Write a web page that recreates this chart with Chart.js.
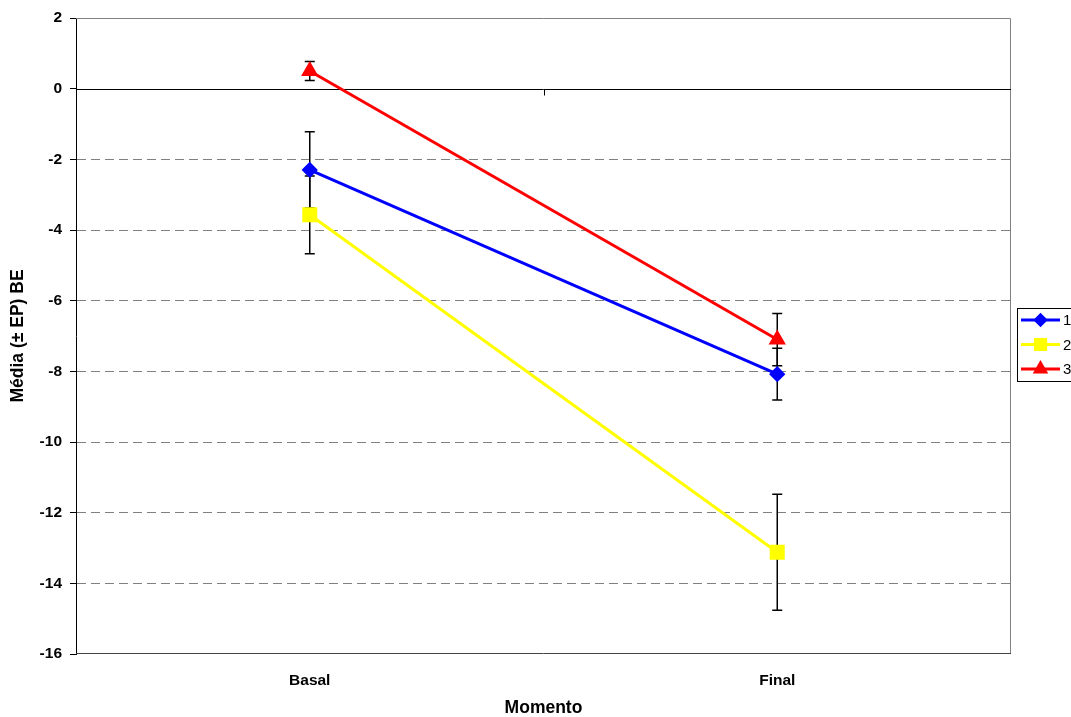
<!DOCTYPE html>
<html>
<head>
<meta charset="utf-8">
<script src="https://cdn.jsdelivr.net/npm/chart.js@4.4.1/dist/chart.umd.min.js"></script>
<style>
  html, body { margin: 0; padding: 0; background: #fff; }
  #wrap { width: 1071px; height: 717px; position: relative; }
</style>
</head>
<body>
<div id="wrap"><canvas id="chart"></canvas></div>
<script>
const momentos = ['Basal', 'Final'];
const grupo1 = [-2.3, -8.08];
const grupo2 = [-3.57, -13.12];
const grupo3 = [0.5, -7.1];
// erro padrão de cada ponto
const ep1 = [1.08, 0.73];
const ep2 = [1.1, 1.64];
const ep3 = [0.27, 0.74];
const yTicks = [2, 0, -2, -4, -6, -8, -10, -12, -14, -16];

const fonte = "'Liberation Sans', Arial, sans-serif";

// barras de erro, eixo do zero e moldura da área do gráfico
const extras = {
  id: 'extras',
  beforeDatasetsDraw(chart) {
    const ctx = chart.ctx;
    const a = chart.chartArea;
    const y = chart.scales.y;
    const x = chart.scales.x;
    ctx.save();
    // moldura
    ctx.strokeStyle = '#808080';
    ctx.lineWidth = 1;
    ctx.beginPath();
    ctx.moveTo(a.left, a.top + 0.5);
    ctx.lineTo(a.right - 0.5, a.top + 0.5);
    ctx.lineTo(a.right - 0.5, a.bottom - 0.5);
    ctx.stroke();
    ctx.strokeStyle = '#444';
    ctx.beginPath();
    ctx.moveTo(a.left, a.bottom - 0.5);
    ctx.lineTo(a.right, a.bottom - 0.5);
    ctx.stroke();
    // linha do zero com marca entre categorias
    const y0 = Math.round(y.getPixelForValue(0)) + 0.5;
    ctx.strokeStyle = '#000';
    ctx.beginPath();
    ctx.moveTo(a.left, y0);
    ctx.lineTo(a.right, y0);
    const xm = Math.round((x.getPixelForValue(0) + x.getPixelForValue(1)) / 2) + 0.5;
    ctx.moveTo(xm, y0);
    ctx.lineTo(xm, y0 + 6);
    ctx.stroke();
    // barras de erro
    ctx.lineWidth = 1.5;
    chart.data.datasets.forEach((ds, i) => {
      const meta = chart.getDatasetMeta(i);
      meta.data.forEach((pt, j) => {
        const v = ds.data[j];
        const e = ds.erros[j];
        const yt = y.getPixelForValue(v + e);
        const yb = y.getPixelForValue(v - e);
        ctx.beginPath();
        ctx.moveTo(pt.x, yt);
        ctx.lineTo(pt.x, yb);
        ctx.moveTo(pt.x - 5, yt);
        ctx.lineTo(pt.x + 5, yt);
        ctx.moveTo(pt.x - 5, yb);
        ctx.lineTo(pt.x + 5, yb);
        ctx.stroke();
      });
    });
    ctx.restore();
  },
  afterDraw(chart) {
    // legenda com linha e marcador
    const ctx = chart.ctx;
    const a = chart.chartArea;
    const left = a.right + 6;
    const top = 308;
    ctx.save();
    ctx.fillStyle = '#fff';
    ctx.fillRect(left, top, 70, 73);
    ctx.strokeStyle = '#000';
    ctx.lineWidth = 1;
    ctx.strokeRect(left + 0.5, top + 0.5, 70, 73);
    ctx.font = '15px ' + fonte;
    ctx.textBaseline = 'middle';
    chart.data.datasets.forEach((ds, i) => {
      const yy = top + 12 + i * 24.5;
      ctx.strokeStyle = ds.borderColor;
      ctx.lineWidth = 3;
      ctx.beginPath();
      ctx.moveTo(left + 4, yy);
      ctx.lineTo(left + 43, yy);
      ctx.stroke();
      ctx.fillStyle = ds.pointBackgroundColor;
      ctx.strokeStyle = ds.pointBorderColor;
      Chart.helpers.drawPoint(ctx, { pointStyle: ds.pointStyle, radius: ds.pointRadius * 0.85, rotation: 0, borderWidth: 1 }, left + 23.5, yy);
      ctx.fillStyle = '#000';
      ctx.fillText(ds.label, left + 46, yy + 1);
    });
    ctx.restore();
  }
};

new Chart(document.getElementById('chart'), {
  type: 'line',
  data: {
    labels: momentos,
    datasets: [
      { label: '1', data: grupo1, erros: ep1, borderColor: '#0000ff', pointBackgroundColor: '#0000ff', pointBorderColor: '#0000ff', pointStyle: 'rectRot', pointRadius: 6, borderWidth: 3 },
      { label: '2', data: grupo2, erros: ep2, borderColor: '#ffff00', pointBackgroundColor: '#ffff00', pointBorderColor: '#ffff00', pointStyle: 'rect', pointRadius: 8.5, borderWidth: 3 },
      { label: '3', data: grupo3, erros: ep3, borderColor: '#ff0000', pointBackgroundColor: '#ff0000', pointBorderColor: '#ff0000', pointStyle: 'triangle', pointRadius: 7, borderWidth: 3 }
    ]
  },
  options: {
    responsive: true,
    maintainAspectRatio: false,
    animation: false,
    layout: { padding: { top: 18, right: 60, left: 8, bottom: 0 } },
    plugins: {
      legend: { display: false },
      tooltip: { enabled: false }
    },
    scales: {
      x: {
        type: 'category',
        offset: true,
        grid: { display: false },
        border: { display: false },
        ticks: { color: '#000', font: { family: fonte, size: 15.5, weight: 'bold' }, padding: 9 },
        title: { display: true, text: 'Momento', color: '#000', font: { family: fonte, size: 17.5, weight: 'bold' }, padding: { top: 4, bottom: -2 } },
        afterFit(s) { s.height = 63; }
      },
      y: {
        min: -16,
        max: 2,
        afterBuildTicks(s) { s.ticks = yTicks.map(v => ({ value: v })); },
        grid: {
          color: c => (c.tick && (c.tick.value === 0 || c.tick.value === 2 || c.tick.value === -16)) ? 'rgba(0,0,0,0)' : '#808080',
          tickColor: '#000',
          tickLength: 6,
          lineWidth: 1
        },
        border: { display: true, color: '#000', width: 1, dash: [9, 5] },
        ticks: { color: '#000', font: { family: fonte, size: 15.5, weight: 'bold' }, padding: 8 },
        title: { display: true, text: 'Média (± EP) BE', color: '#000', font: { family: fonte, size: 17.5, weight: 'bold' }, padding: { top: 0, bottom: 6 } },
        afterFit(s) { s.width = 68; }
      }
    }
  },
  plugins: [extras]
});
</script>
</body>
</html>
